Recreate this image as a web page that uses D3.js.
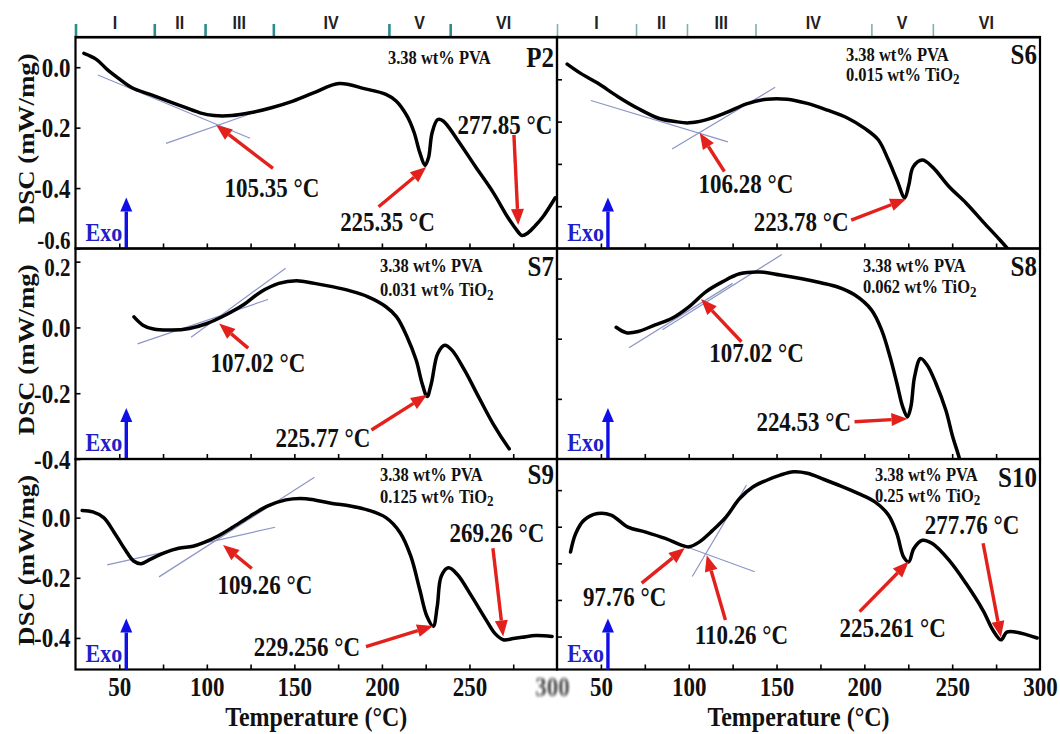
<!DOCTYPE html>
<html>
<head>
<meta charset="utf-8">
<script src="https://cdn.jsdelivr.net/npm/d3@7"></script>
<style>
  body { margin: 0; background: #fff; }
  svg text { font-family: "Liberation Serif", "Times New Roman", serif; font-weight: bold; fill: #111; }
  svg text.tall { transform-box: fill-box; transform-origin: center; transform: scaleY(1.15); }
</style>
</head>
<body>
<svg id="chart" width="1060" height="734"></svg>
<script>
// ---- shared axes -------------------------------------------------------
const tempDomain = [25, 300];
const xTickLabels = [50, 100, 150, 200, 250, 300];
const xMinorTicks = [50, 75, 100, 125, 150, 175, 200, 225, 250, 275];
// thermal regions along the top edge
const regionBounds = [25, 70, 99, 138, 204, 239, 300];
const regionLabels = ["I", "II", "III", "IV", "V", "VI"];
const exoTemp = 54;

// ---- DSC traces: [temperature °C, heat flow mW/mg] ----------------------
const p2Curve = [[29.8,0.046],[36.9,0.026],[43.0,-0.007],[49.2,-0.035],[57.3,-0.068],[67.6,-0.090],[77.8,-0.112],[88.0,-0.134],[96.1,-0.151],[104.1,-0.160],[114.4,-0.160],[124.7,-0.151],[136.9,-0.134],[149.2,-0.112],[161.3,-0.084],[175.6,-0.054],[189.9,-0.071],[202.3,-0.090],[208.1,-0.112],[214.4,-0.162],[218.4,-0.216],[221.6,-0.282],[224.6,-0.325],[226.6,-0.300],[228.7,-0.216],[231.9,-0.173],[235.0,-0.178],[243.0,-0.239],[253.3,-0.328],[263.6,-0.415],[271.6,-0.494],[276.5,-0.535],[280.0,-0.557],[283.5,-0.548],[287.5,-0.525],[292.1,-0.494],[299.0,-0.432]];
const s6Curve = [[30.8,0.036],[38.5,0.014],[48.1,-0.009],[59.7,-0.041],[71.2,-0.069],[82.8,-0.092],[92.4,-0.100],[100.1,-0.103],[109.7,-0.096],[121.2,-0.079],[132.9,-0.058],[144.4,-0.047],[156.0,-0.047],[167.5,-0.057],[179.0,-0.073],[190.6,-0.092],[200.2,-0.116],[207.9,-0.143],[213.7,-0.191],[218.5,-0.238],[223.0,-0.280],[225.3,-0.250],[227.8,-0.207],[233.0,-0.191],[238.7,-0.207],[248.3,-0.254],[258.0,-0.293],[267.6,-0.337],[277.2,-0.380],[284.0,-0.412]];
const s7Curve = [[58.4,0.032],[63.5,0.007],[69.6,-0.005],[79.8,-0.008],[90.0,-0.003],[100.1,0.012],[110.4,0.037],[120.7,0.068],[130.8,0.108],[141.1,0.134],[151.2,0.142],[161.5,0.134],[171.6,0.124],[181.9,0.111],[192.1,0.093],[202.3,0.063],[208.4,0.032],[214.4,-0.029],[219.6,-0.100],[223.0,-0.171],[225.8,-0.210],[228.2,-0.171],[231.9,-0.079],[235.9,-0.054],[240.0,-0.069],[247.2,-0.130],[255.3,-0.212],[263.5,-0.293],[272.7,-0.369]];
const s8Curve = [[58.7,0.019],[64.5,0.010],[71.2,0.012],[80.9,0.023],[90.5,0.034],[100.1,0.053],[109.7,0.078],[119.4,0.095],[129.0,0.108],[140.5,0.111],[152.1,0.106],[163.7,0.100],[175.2,0.093],[184.8,0.086],[194.4,0.073],[204.0,0.048],[209.9,0.014],[214.6,-0.030],[218.5,-0.074],[221.8,-0.113],[224.5,-0.130],[226.5,-0.113],[228.6,-0.063],[232.0,-0.033],[235.8,-0.044],[240.7,-0.074],[246.4,-0.119],[250.3,-0.163],[254.1,-0.199],[256.5,-0.230]];
const s9Curve = [[28.8,0.024],[34.9,0.019],[41.1,0.000],[47.2,-0.050],[53.3,-0.106],[58.4,-0.145],[62.5,-0.153],[67.6,-0.139],[75.7,-0.117],[83.9,-0.102],[92.1,-0.095],[98.2,-0.083],[106.4,-0.061],[114.5,-0.033],[124.7,0.005],[134.9,0.039],[145.1,0.059],[153.3,0.064],[161.5,0.059],[171.6,0.047],[181.9,0.039],[192.1,0.025],[202.3,0.000],[210.4,-0.050],[216.5,-0.128],[221.6,-0.239],[225.7,-0.328],[229.3,-0.361],[231.6,-0.295],[233.9,-0.195],[238.0,-0.167],[243.1,-0.189],[251.2,-0.261],[259.4,-0.339],[264.5,-0.385],[269.3,-0.406],[275.0,-0.402],[280.0,-0.398],[288.0,-0.392],[297.2,-0.395]];
const s10Curve = [[32.7,-0.069],[35.6,-0.019],[40.4,0.018],[48.1,0.036],[55.8,0.032],[65.4,-0.001],[75.1,-0.014],[86.6,-0.032],[96.2,-0.051],[100.1,-0.055],[105.9,-0.042],[113.6,-0.010],[121.3,0.027],[129.0,0.077],[136.7,0.109],[144.4,0.127],[152.1,0.141],[159.8,0.150],[167.5,0.146],[177.1,0.129],[186.7,0.111],[196.4,0.091],[206.0,0.068],[213.7,0.032],[218.5,-0.019],[222.4,-0.083],[225.3,-0.096],[228.1,-0.060],[233.0,-0.037],[238.7,-0.046],[248.3,-0.092],[258.0,-0.156],[267.6,-0.229],[273.4,-0.284],[277.8,-0.309],[281.1,-0.288],[286.8,-0.288],[298.4,-0.304]];

// ---- tangent construction lines: [[T, DSC], [T, DSC]] ------------------
const p2Tangents  = [[[37.8,-0.026],[124.7,-0.235]], [[76.7,-0.252],[124.7,-0.155]]];
const s6Tangents  = [[[44.3,-0.050],[122.3,-0.148]], [[90.5,-0.165],[149.2,-0.019]]];
const s7Tangents  = [[[60.4,-0.050],[134.9,0.085]], [[91.0,-0.030],[145.0,0.180]]];
const s8Tangents  = [[[66.0,-0.015],[125.0,0.092]], [[85.0,0.015],[153.0,0.140]]];
const s9Tangents  = [[[43.1,-0.157],[139.0,-0.032]], [[72.7,-0.197],[161.5,0.134]]];
const s10Tangents = [[[98.2,-0.054],[137.6,-0.123]], [[102.0,-0.136],[132.9,0.114]]];

// ---- transition temperatures: arrow tip, arrow tail and label centre ----
const p2Notes = [
  { value: 105.35, tipDsc: -0.191, tail: [137.8, -0.335], label: [137.2, -0.400] },
  { value: 225.35, tipDsc: -0.330, tail: [198.1, -0.462], label: [203.2, -0.511] },
  { value: 277.85, tipDsc: -0.522, tail: [275.4, -0.224], label: [270.3, -0.191] }
];
const s6Notes = [
  { value: 106.28, tipDsc: -0.127, tail: [120.3, -0.218], label: [132.6, -0.246] },
  { value: 223.78, tipDsc: -0.283, tail: [192.5, -0.333], label: [164.0, -0.337] }
];
const s7Notes = [
  { value: 107.02, tipDsc: 0.012,  tail: [123.6, -0.063], label: [129.2, -0.109] },
  { value: 225.77, tipDsc: -0.205, tail: [194.0, -0.312], label: [166.3, -0.337] }
];
const s8Notes = [
  { value: 107.02, tipDsc: 0.066,  tail: [130.0, -0.005], label: [138.6, -0.024] },
  { value: 224.53, tipDsc: -0.133, tail: [194.4, -0.138], label: [165.5, -0.138] }
];
const s9Notes = [
  { value: 109.26,  tipDsc: -0.091, tail: [125.7, -0.169], label: [133.2, -0.224] },
  { value: 229.256, tipDsc: -0.360, tail: [190.9, -0.429], label: [157.2, -0.429] },
  { value: 269.26,  tipDsc: -0.395, tail: [263.4, -0.102], label: [265.7, -0.052] }
];
const s10Notes = [
  { value: 97.76,   tipDsc: -0.058, tail: [73.2, -0.154],  label: [63.5, -0.191] },
  { value: 110.26,  tipDsc: -0.078, tail: [120.9, -0.255], label: [130.0, -0.296] },
  { value: 225.261, tipDsc: -0.095, tail: [197.3, -0.232], label: [216.1, -0.277] },
  { value: 277.76,  tipDsc: -0.302, tail: [267.6, -0.045], label: [261.3, 0.006] }
];

// ---- sample names and compositions -------------------------------------
const sampleNames = ["P2", "S6", "S7", "S8", "S9", "S10"];
const pvaLoading = "3.38";
const tio2Loading = [null, "0.015", "0.031", "0.062", "0.125", "0.25"];

// ---- y-axis ranges and ticks per sample --------------------------------
const yDomains = [[-0.6, 0.1], [-0.4, 0.1], [-0.4, 0.24], [-0.2, 0.15], [-0.505, 0.195], [-0.39, 0.185]];
const yTickValues = [[0, -0.2, -0.4, -0.6], [0, -0.1, -0.2, -0.3], [0.2, 0, -0.2, -0.4],
                     [0.1, 0, -0.1], [0, -0.2, -0.4], [0.1, 0, -0.1, -0.2, -0.3]];

// ---- layout --------------------------------------------------------------
const colRange = [[75.5, 557], [557, 1040]];
const rowRange = [[37, 248.5], [248.5, 459], [459, 669.5]];
const RED = "#e3211c", BLUE = "#1010e6";

const curves = [p2Curve, s6Curve, s7Curve, s8Curve, s9Curve, s10Curve];
const tangents = [p2Tangents, s6Tangents, s7Tangents, s8Tangents, s9Tangents, s10Tangents];
const notes = [p2Notes, s6Notes, s7Notes, s8Notes, s9Notes, s10Notes];
// text placement inside each frame (pixel offsets)
const compOffset = [[312.5, 21, 0], [289, 18, 38], [304.5, 18, 42], [306, 18, 39], [304.5, 16, 38], [318, 16, 37]];
const nameOffset = [21, 18, 18, 18, 16, 19];

const panels = sampleNames.map((name, i) => ({
  name, col: i % 2, row: Math.floor(i / 2),
  curve: curves[i], tangents: tangents[i], notes: notes[i],
  yDomain: yDomains[i], yTicks: yTickValues[i], tio2: tio2Loading[i],
  comp: compOffset[i], nameDy: nameOffset[i]
}));

const svg = d3.select("#chart");
const defs = svg.append("defs");
defs.append("filter").attr("id", "soft").append("feGaussianBlur").attr("stdDeviation", 1.3);

function drawArrow(g, x1, y1, x2, y2, color, width, headL, headW) {
  const a = Math.atan2(y2 - y1, x2 - x1);
  const bx = x2 - headL * Math.cos(a), by = y2 - headL * Math.sin(a);
  g.append("line").attr("x1", x1).attr("y1", y1).attr("x2", bx).attr("y2", by)
    .attr("stroke", color).attr("stroke-width", width);
  const s = Math.sin(a), c = Math.cos(a);
  g.append("polygon")
    .attr("points", [[x2, y2], [bx + headW * s, by - headW * c], [bx - headW * s, by + headW * c]].map(p => p.join(",")).join(" "))
    .attr("fill", color);
}

const fmtTick = d => d.toFixed(1).replace("-0.0", "0.0");

// ---- region header ----------------------------------------------------------
colRange.forEach((range, ci) => {
  const x = d3.scaleLinear().domain(tempDomain).range(range);
  const top = svg.append("g").attr("transform", `translate(0,${rowRange[0][0]})`)
    .call(d3.axisTop(x).tickValues(regionBounds.slice(0, -1)).tickSize(13).tickSizeOuter(0).tickFormat(""));
  top.select(".domain").attr("stroke", "#000").attr("stroke-width", 2);
  top.selectAll(".tick line").attr("stroke", ci === 0 ? "#2d8b8c" : "#7fb0b2").attr("stroke-width", ci === 0 ? 2.6 : 1.6);
  svg.append("g").selectAll("text").data(regionLabels).join("text").attr("class", "tall")
    .attr("x", (d, i) => x((regionBounds[i] + regionBounds[i + 1]) / 2))
    .attr("y", 28).attr("text-anchor", "middle")
    .style("font-family", "'Liberation Sans', Arial, sans-serif").style("font-weight", "bold")
    .style("font-size", "16px").style("fill", "#222").text(d => d);
});

// ---- panels ---------------------------------------------------------------
panels.forEach((p, i) => {
  const [x0, x1] = colRange[p.col];
  const [y0, y1] = rowRange[p.row];
  const x = d3.scaleLinear().domain(tempDomain).range([x0, x1]);
  const y = d3.scaleLinear().domain(p.yDomain).range([y1, y0]);
  const g = svg.append("g");

  defs.append("clipPath").attr("id", `clip${i}`)
    .append("rect").attr("x", x0).attr("y", y0).attr("width", x1 - x0).attr("height", y1 - y0);

  // inward ticks
  const bt = g.append("g").attr("transform", `translate(0,${y1})`)
    .call(d3.axisTop(x).tickValues(xMinorTicks).tickSize(5).tickFormat(""));
  bt.select(".domain").remove();
  bt.selectAll(".tick line").attr("stroke-width", 1.6);
  const lt = g.append("g").attr("transform", `translate(${x0},0)`)
    .call(d3.axisRight(y).tickValues(p.yTicks).tickSize(5).tickFormat(""));
  lt.select(".domain").remove();
  lt.selectAll(".tick line").attr("stroke-width", 1.6);

  if (p.col === 0) {
    const ll = g.append("g").attr("transform", `translate(${x0},0)`)
      .call(d3.axisLeft(y).tickValues(p.yTicks).tickSize(0).tickPadding(5).tickFormat(fmtTick));
    ll.select(".domain").remove();
    // labels sitting on a shared panel edge are nudged apart
    const atTopEdge = d => d === p.yDomain[0] && p.row === 0;
    const nearTop = d => y(d) - y0 < 18;
    ll.selectAll("text").attr("class", "tall")
      .style("font-size", d => (atTopEdge(d) || nearTop(d)) ? "21px" : "23px")
      .attr("dy", d => atTopEdge(d) ? "-0.05em" : (nearTop(d) ? "0.62em" : "0.34em"))
      .style("font-family", "'Liberation Serif', serif").style("font-weight", "bold");
    g.append("text").attr("transform", `translate(26,${(y0 + y1) / 2 - 4}) rotate(-90) scale(1.12,1)`)
      .attr("text-anchor", "middle").attr("dy", "0.35em").style("font-size", "24px")
      .text("DSC (mW/mg)");
  }

  if (p.row === 2) {
    const bl = g.append("g").attr("transform", `translate(0,${y1})`)
      .call(d3.axisBottom(x).tickValues(xTickLabels).tickSize(0).tickPadding(9));
    bl.select(".domain").remove();
    bl.selectAll("text").attr("class", "tall").style("font-size", "23px")
      .style("font-family", "'Liberation Serif', serif").style("font-weight", "bold");
    if (p.col === 0) bl.selectAll(".tick").filter(d => d === 300).select("text")
      .attr("dx", -5).attr("filter", "url(#soft)").attr("opacity", 0.75);
    g.append("text").attr("class", "tall").attr("x", (x0 + x1) / 2).attr("y", 725).attr("text-anchor", "middle")
      .style("font-size", "24px").text("Temperature (°C)");
  }

  // frame
  g.append("rect").attr("x", x0).attr("y", y0).attr("width", x1 - x0).attr("height", y1 - y0)
    .attr("fill", "none").attr("stroke", "#000").attr("stroke-width", 2.2);

  const inner = g.append("g").attr("clip-path", `url(#clip${i})`);

  // tangent construction lines
  inner.selectAll("line.tan").data(p.tangents).join("line").attr("class", "tan")
    .attr("x1", d => x(d[0][0])).attr("y1", d => y(d[0][1]))
    .attr("x2", d => x(d[1][0])).attr("y2", d => y(d[1][1]))
    .attr("stroke", "#8d95c6").attr("stroke-width", 1.2);

  // DSC trace
  inner.append("path").datum(p.curve)
    .attr("d", d3.line().x(d => x(d[0])).y(d => y(d[1])).curve(d3.curveCatmullRom.alpha(0.5)))
    .attr("fill", "none").attr("stroke", "#000").attr("stroke-width", 3.5)
    .attr("stroke-linejoin", "round").attr("stroke-linecap", "round");

  // transition markers
  p.notes.forEach(n => {
    drawArrow(g, x(n.tail[0]), y(n.tail[1]), x(n.value), y(n.tipDsc), RED, 3.4, 16, 6.5);
    g.append("text").attr("class", "tall").attr("x", x(n.label[0])).attr("y", y(n.label[1]) + 8)
      .attr("text-anchor", "middle").style("font-size", "23px").text(`${n.value} °C`);
  });

  // exotherm direction
  const ex = x(exoTemp);
  drawArrow(g, ex, y1, ex, y1 - 51, BLUE, 3.4, 14, 6);
  g.append("text").attr("class", "tall").attr("x", ex - 4).attr("y", y1 - 9).attr("text-anchor", "end")
    .style("font-size", "22px").style("fill", "#2020c8").text("Exo");

  // composition and sample name
  const [cx, cy1, cy2] = p.comp;
  g.append("text").attr("class", "tall").attr("x", x0 + cx).attr("y", y0 + cy1 + 5).style("font-size", "16.5px")
    .text(`${pvaLoading} wt% PVA`);
  if (p.tio2) {
    const t = g.append("text").attr("class", "tall").attr("x", x0 + cx).attr("y", y0 + cy2 + 5).style("font-size", "16.5px");
    t.append("tspan").text(`${p.tio2} wt% TiO`);
    t.append("tspan").attr("dy", 3).style("font-size", "13px").text("2");
  }
  g.append("text").attr("class", "tall").attr("x", x1 - 3).attr("y", y0 + p.nameDy + 8).attr("text-anchor", "end")
    .style("font-size", "25px").text(p.name);
});
</script>
</body>
</html>
